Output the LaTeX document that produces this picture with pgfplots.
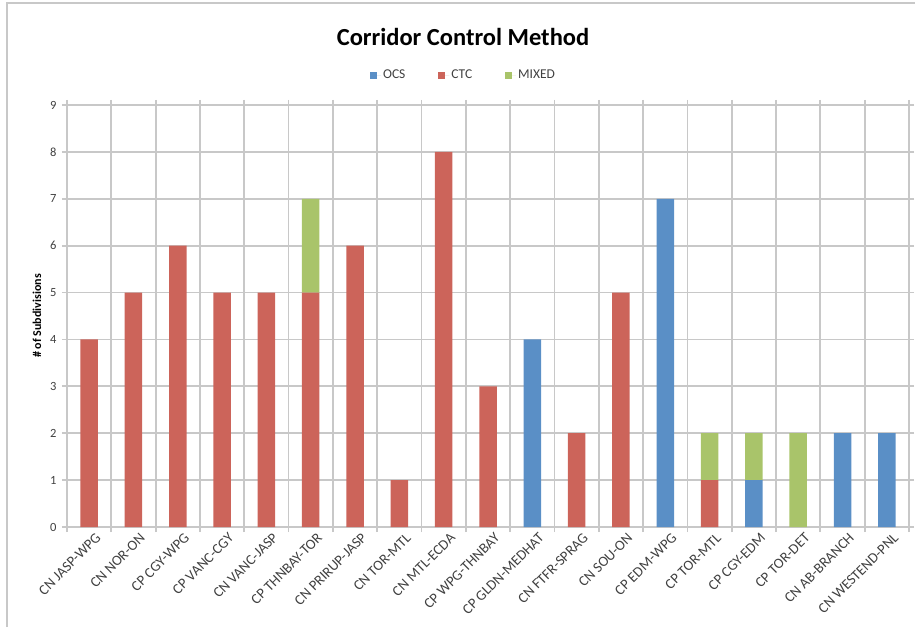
\documentclass[border=0pt]{standalone}
\usepackage{pgfplots}
\pgfplotsset{compat=1.18}
\usepackage{fontspec}
\setmainfont{Carlito}
\definecolor{ocs}{HTML}{5A8FC6}
\definecolor{ctc}{HTML}{CC645A}
\definecolor{mixed}{HTML}{A9C46A}
\definecolor{gridgrey}{HTML}{C8C8C8}
\definecolor{labgrey}{HTML}{404040}
\begin{document}
\begin{tikzpicture}
\begin{axis}[
  scale only axis,
  width=842pt, height=422pt,
  ybar stacked,
  bar width=17.5pt,
  xmin=-0.5, xmax=18.5,
  ymin=0, ymax=9,
  xtick={0,...,18},
  xticklabels={CN JASP-WPG,CN NOR-ON,CP CGY-WPG,CP VANC-CGY,CN VANC-JASP,CP THNBAY-TOR,CN PRIRUP-JASP,CN TOR-MTL,CN MTL-ECDA,CP WPG-THNBAY,CP GLDN-MEDHAT,CN FTFR-SPRAG,CN SOU-ON,CP EDM-WPG,CP TOR-MTL,CP CGY-EDM,CP TOR-DET,CN AB-BRANCH,CN WESTEND-PNL},
  minor xtick={-0.5,0.5,...,18.5},
  ytick={0,...,9},
  xmajorgrids=false, xminorgrids=true, ymajorgrids=true,
  grid style={gridgrey, line width=1.8pt},
  minor grid style={gridgrey, line width=1.8pt},
  axis line style={gridgrey, line width=1.8pt},
  tick align=outside,
  major tick length=5pt, minor tick length=5pt,
  major x tick style={draw=none},
  tick style={gridgrey, line width=1.8pt},
  minor tick style={gridgrey, line width=1.8pt},
  /pgf/number format/assume math mode=true,
  ticklabel style={text=labgrey},
  yticklabel style={font=\fontsize{12.5pt}{14pt}\selectfont, xshift=-2pt},
  xticklabel style={font=\fontsize{14.5pt}{16pt}\selectfont, rotate=45, anchor=north east, inner sep=1pt, xshift=5pt, yshift=-3pt},
  ylabel={\textbf{\# of Subdivisions}},
  ylabel style={at={(rel axis cs:-0.0356,0.5)}, anchor=center, font=\fontsize{12pt}{14pt}\selectfont, text=black},
  legend columns=3,
  legend style={at={(rel axis cs:0.471,1.071)}, anchor=center, draw=none, fill=none,
    font=\fontsize{13.5pt}{15pt}\selectfont, text=labgrey,
    /tikz/every even column/.append style={column sep=31pt}},
  legend image code/.code={\fill[#1,draw=none] (0pt,-3.5pt) rectangle (7pt,3.5pt);
    \path (0pt,0pt) -- (11pt,0pt);},
  clip=false,
]
\addplot[fill=ocs, draw=none] coordinates {(0,0) (1,0) (2,0) (3,0) (4,0) (5,0) (6,0) (7,0) (8,0) (9,0) (10,4) (11,0) (12,0) (13,7) (14,0) (15,1) (16,0) (17,2) (18,2)};
\addlegendentry{OCS}
\addplot[fill=ctc, draw=none] coordinates {(0,4) (1,5) (2,6) (3,5) (4,5) (5,5) (6,6) (7,1) (8,8) (9,3) (10,0) (11,2) (12,5) (13,0) (14,1) (15,0) (16,0) (17,0) (18,0)};
\addlegendentry{CTC}
\addplot[fill=mixed, draw=none] coordinates {(0,0) (1,0) (2,0) (3,0) (4,0) (5,2) (6,0) (7,0) (8,0) (9,0) (10,0) (11,0) (12,0) (13,0) (14,1) (15,1) (16,2) (17,0) (18,0)};
\addlegendentry{MIXED}
\coordinate (ll) at (rel axis cs:0,0);
\end{axis}
\begin{scope}[shift={(ll)}, x=1pt, y=1pt]
  \node[font=\fontsize{24.5pt}{28pt}\selectfont\bfseries] at (396,490) {Corridor Control Method};
  \draw[gridgrey, line width=2.5pt] (-60,-100) -- (-60,524) -- (848,524);
\end{scope}
\pgfresetboundingbox
\useasboundingbox ([shift={(-67pt,-100pt)}]ll) rectangle ([shift={(848pt,527pt)}]ll);
\end{tikzpicture}
\end{document}
